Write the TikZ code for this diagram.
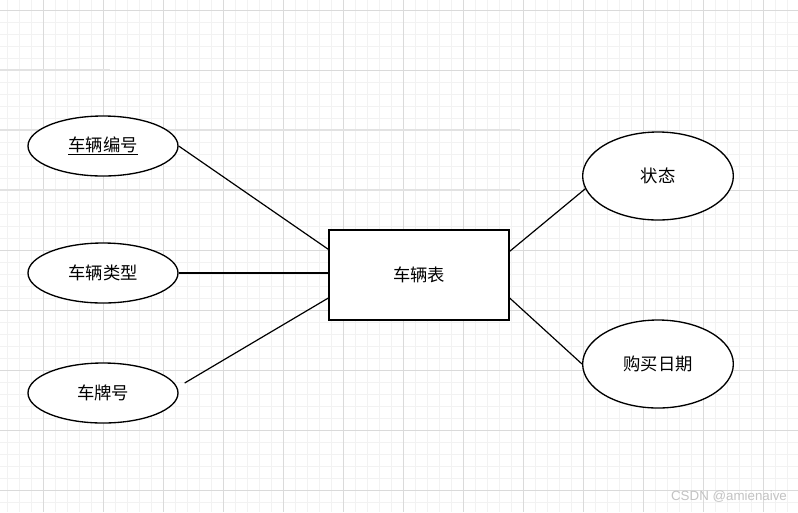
\documentclass[tikz,border=0pt]{standalone}
\usepackage{fontspec}
\newfontfamily\cjk{Noto Sans CJK SC}
\newfontfamily\wmfont{Liberation Sans}
\usetikzlibrary{shapes.geometric}
\definecolor{gridminor}{RGB}{242,242,242}
\definecolor{gridmajor}{RGB}{218,218,218}
\definecolor{smudge}{RGB}{226,226,226}
\definecolor{mark}{RGB}{195,195,195}
\tikzset{
  attr/.style={ellipse,draw,line width=1pt,fill=white,inner sep=0pt,
    minimum width=112.5pt,minimum height=45pt,font=\cjk\fontsize{13}{15}\selectfont},
  entity/.style={rectangle,draw,line width=1pt,fill=white,inner sep=0pt,
    minimum width=135pt,minimum height=67.5pt,font=\cjk\fontsize{13}{15}\selectfont},
  link/.style={line width=0.9pt},
}
\begin{document}
\begin{tikzpicture}[x=0.75pt,y=-0.75pt]
  \fill[white] (0,0) rectangle (798,512);
  \useasboundingbox (0,0) rectangle (798,512);
  % grid
  \foreach \x in {7,19,...,798} \draw[gridminor,line width=0.6pt] (\x,0) -- (\x,512);
  \foreach \y in {10,22,...,512} \draw[gridminor,line width=0.6pt] (0,\y) -- (798,\y);
  \foreach \x in {43,103,...,798} \draw[gridmajor,line width=0.7pt] (\x,0) -- (\x,512);
  \foreach \y in {10,70,...,512} \draw[gridmajor,line width=0.7pt] (0,\y) -- (798,\y);
  \draw[smudge,line width=1.5pt] (0,70) -- (110,70) (0,130) -- (520,130) (0,190) -- (520,190);
  % entity and attributes
  \node[entity] (tbl) at (419,275) {车辆表};
  \node[attr] (bh) at (103,146) {\underline{车辆编号}};
  \node[attr] (lx) at (103,273) {车辆类型};
  \node[attr] (cp) at (103,393) {车牌号};
  \node[attr,minimum width=113pt,minimum height=66pt] (zt) at (658,176) {状态};
  \node[attr,minimum width=113pt,minimum height=66pt] (gm) at (658,364) {购买日期};
  \draw[link] (bh.east) -- ([yshift=-15pt]tbl.north west);
  \draw[link] (lx.east) -- (lx.east -| tbl.west);
  \draw[link] ([xshift=4.5pt,yshift=7.5pt]cp.east) -- ([yshift=17pt]tbl.south west);
  \draw[link] ([yshift=-16.5pt]tbl.north east) -- (zt.190);
  \draw[link] ([yshift=17pt]tbl.south east) -- (gm.west);
  \node[font=\wmfont\fontsize{10}{11}\selectfont,text=mark] (wm) at (729,497) {CSDN @amienaive};
\end{tikzpicture}
\end{document}
